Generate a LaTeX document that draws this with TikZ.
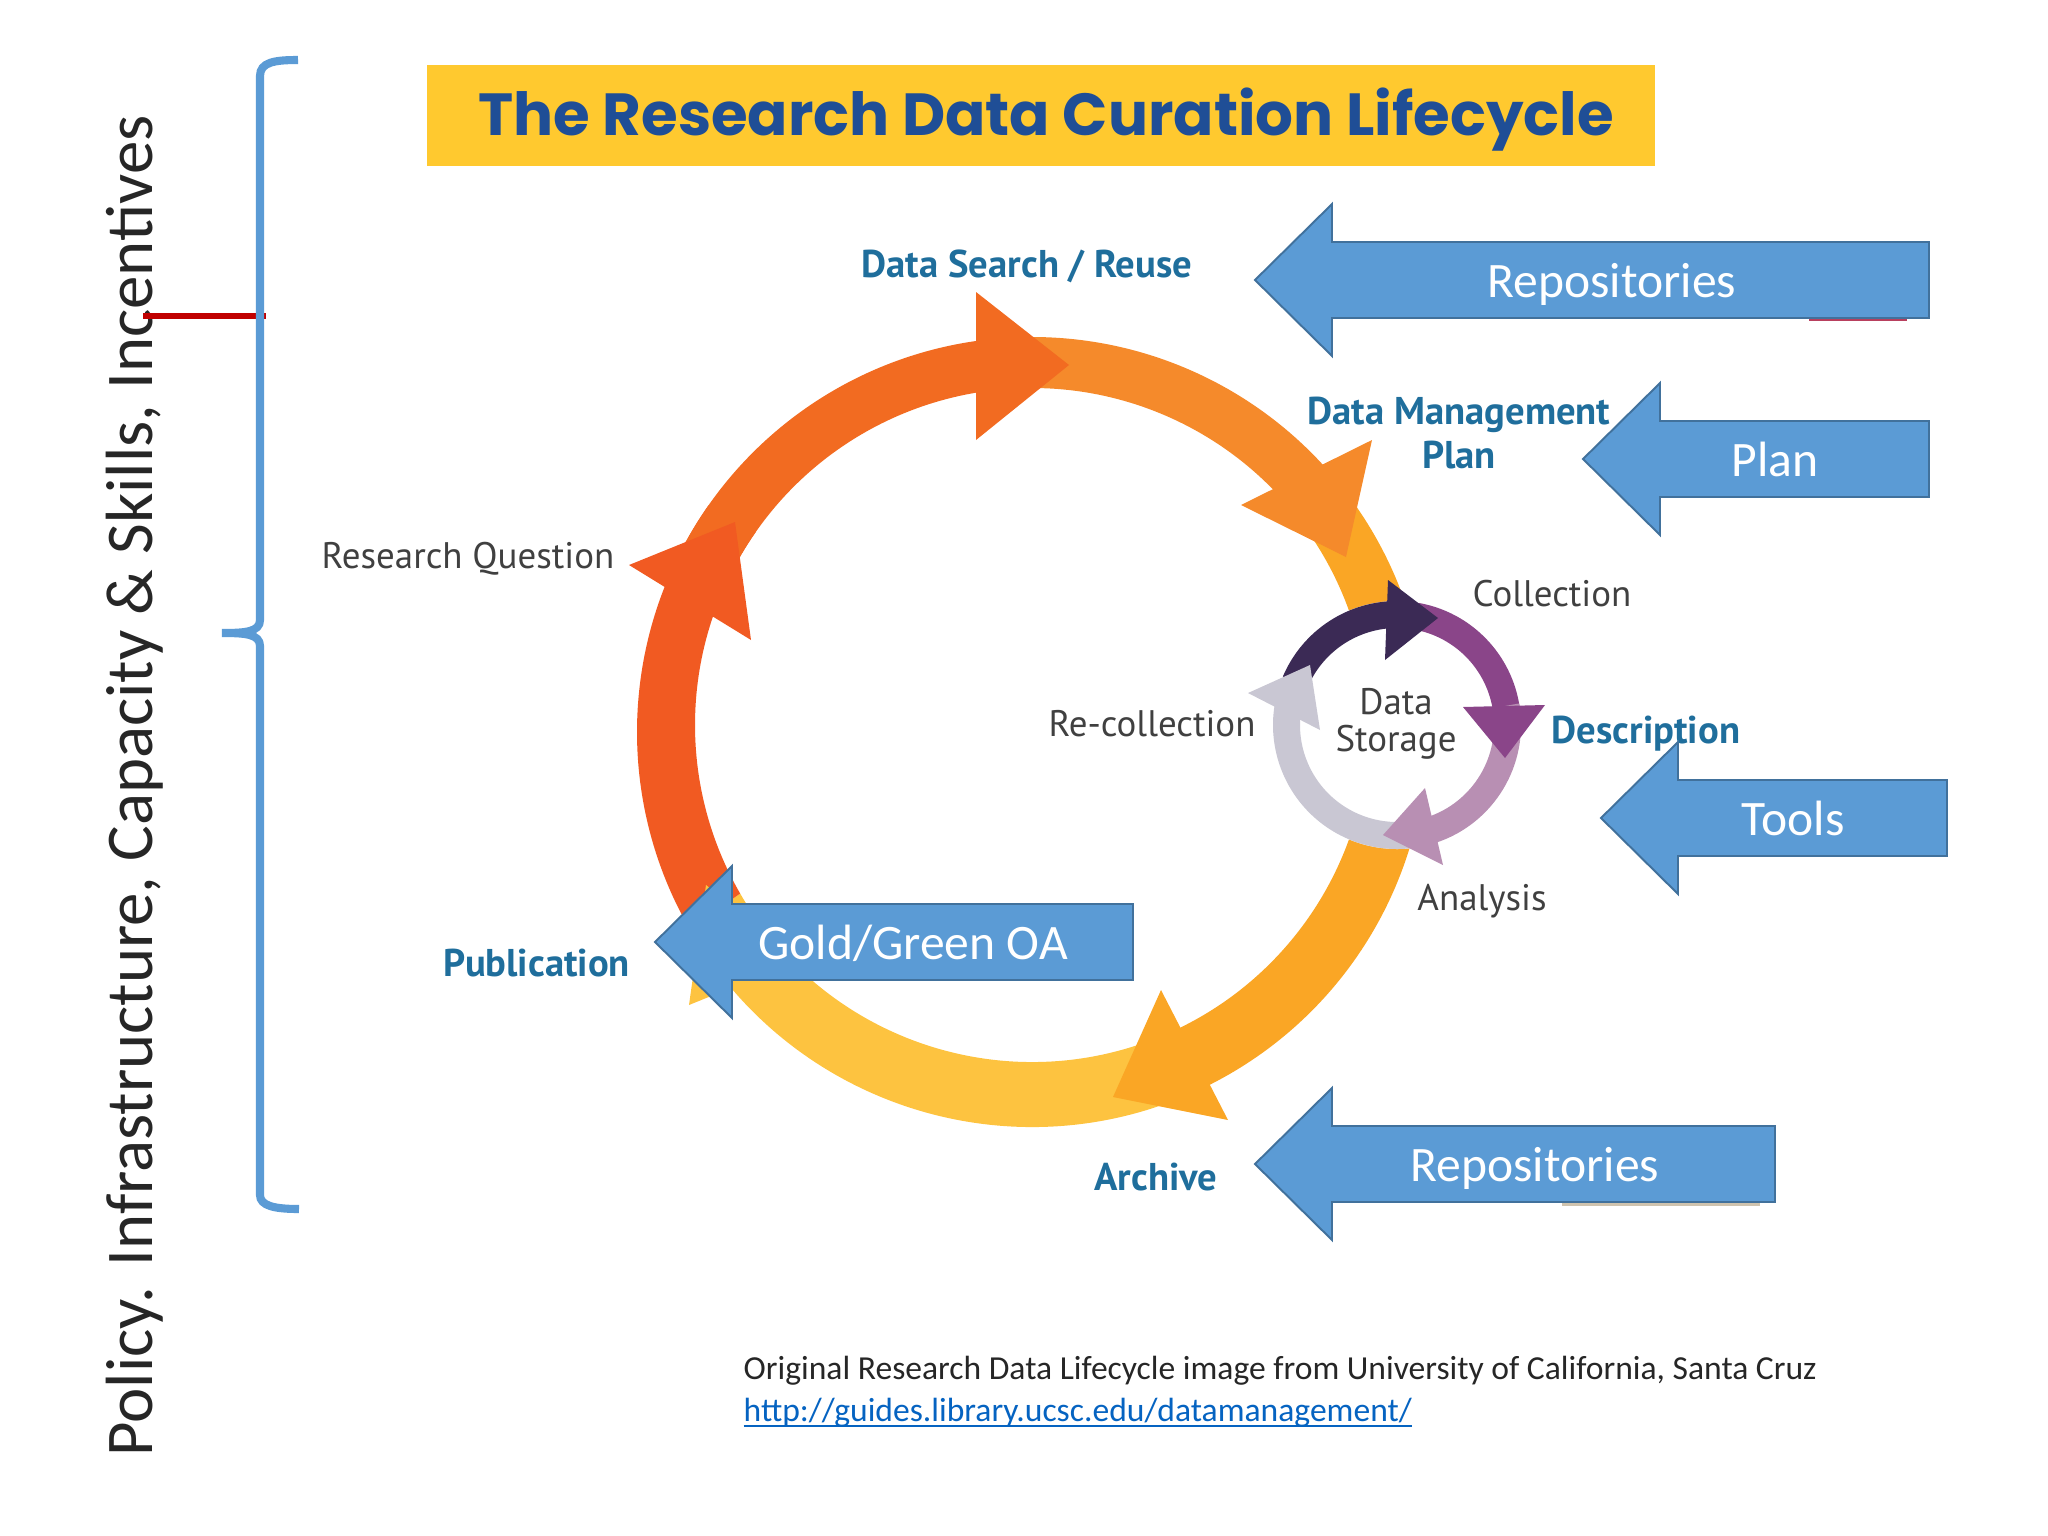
\documentclass[tikz,border=0pt]{standalone}
\usepackage{fontspec}
\setmainfont{Carlito}
\newfontfamily\titlefont{Poppins}
\newfontfamily\labelfont{PT Sans}
\usepackage{xcolor}
\definecolor{officeblue}{HTML}{5B9BD5}
\definecolor{officeedge}{HTML}{41719C}
\definecolor{stageblue}{HTML}{1F6E9C}
\definecolor{titleblue}{HTML}{1F4E96}
\definecolor{bannerfill}{HTML}{FFC92F}
\definecolor{linkblue}{HTML}{0563C1}
\definecolor{cutred}{HTML}{C00000}
\definecolor{cutpink}{HTML}{B8405E}
\definecolor{cuttan}{HTML}{CFC3AE}
\definecolor{bandyellow}{HTML}{FDC340}
\definecolor{bandred}{HTML}{F15A22}
\definecolor{banddeep}{HTML}{F26B21}
\definecolor{bandorange}{HTML}{F58A2B}
\definecolor{bandamber}{HTML}{FAA625}
\definecolor{ringdark}{HTML}{3B2A55}
\definecolor{ringpurple}{HTML}{8A4589}
\definecolor{ringmauve}{HTML}{B88FB3}
\definecolor{ringlilac}{HTML}{C9C7D3}
\tikzset{
  calloutarrow/.style = {draw=officeedge, fill=officeblue, line width=0.55pt, line join=miter},
  calloutlabel/.style = {text=white, text height=9.4pt, text depth=2.8pt, font=\fontsize{14.1}{16}\selectfont},
  stagebold/.style    = {text=stageblue, align=center, font=\labelfont\bfseries\fontsize{11}{12.6}\selectfont},
  stageplain/.style   = {text=black!75, align=center, font=\labelfont\fontsize{10.5}{10.6}\selectfont},
  sourceline/.style   = {anchor=base west, inner sep=0pt, font=\fontsize{9.55}{11}\selectfont}
}
\begin{document}
\begin{tikzpicture}
  [
    x = 0.01cm,
    y = 0.01cm,
    yscale = -1
  ]
  \useasboundingbox (0,0) rectangle (2048,1536);

  % title banner
  \fill [bannerfill] (427,65) rectangle (1655,166);
  \node (title) at (1046,120) [text=titleblue, font=\titlefont\bfseries\fontsize{16.9}{20}\selectfont] {The Research Data Curation Lifecycle};

  % big ring
  \foreach \col/\from/\to in {bandyellow/65/150, bandred/150/215, banddeep/205/265, bandorange/265/325, bandamber/320/425}
    \fill [\col]
      ([shift={(1032,732)}]\from:395) arc [start angle=\from, end angle=\to, radius=395]
      -- ([shift={(1032,725)}]\to:337) arc [start angle=\to, end angle=\from, radius=337] -- cycle;
  \foreach \col/\ax/\ay/\bx/\by/\cx/\cy in {
      bandyellow/689/1005/706/885/800/960,
      bandred/629/565/735/522/751/640,
      banddeep/976/292/1069/365/976/440,
      bandorange/1372/440/1346/557/1241/505,
      bandamber/1161/990/1113/1097/1228/1120}
    \fill [\col] (\ax,\ay) -- (\bx,\by) -- (\cx,\cy) -- cycle;

  % small ring
  \fill [white] (1397,725) circle (124);
  \foreach \col/\from/\to in {ringdark/203/270, ringpurple/280/352, ringmauve/350/432, ringlilac/78/190}
    \fill [\col]
      ([shift={(1397,725)}]\from:124) arc [start angle=\from, end angle=\to, radius=124]
      -- ([shift={(1397,725)}]\to:97) arc [start angle=\to, end angle=\from, radius=97] -- cycle;
  \foreach \col/\ax/\ay/\bx/\by/\cx/\cy in {
      ringpurple/1463/707/1505/758/1545/705,
      ringdark/1388/580/1438/618/1385/660,
      ringlilac/1248/693/1310/665/1320/730,
      ringmauve/1425/788/1383/835/1443/865}
    \fill [\col] (\ax,\ay) -- (\bx,\by) -- (\cx,\cy) -- cycle;

  % stage labels
  \node (reuse)       at (1027,266) [stagebold]  {Data Search / Reuse};
  \node (plan)        at (1459,433) [stagebold]  {Data Management\\Plan};
  \node (description) at (1646,734) [stagebold]  {Description};
  \node (publication) at (537,963)  [stagebold]  {Publication};
  \node (archive)     at (1156,1177) [stagebold] {Archive};
  \node (question)    at (468,559)  [stageplain] {Research Question};
  \node (collection)  at (1552,594) [stageplain] {Collection};
  \node (storage)     at (1396,724) [stageplain] {Data\\Storage};
  \node (recollect)   at (1152,724) [stageplain] {Re-collection};
  \node (analysis)    at (1482,901) [stageplain] {Analysis};

  % bits left behind the callouts
  \draw [cutpink, line width=0.9pt] (1809,319) -- (1907,319);
  \draw [cuttan, line width=0.9pt] (1562,1204) -- (1760,1204);

  % callouts
  \foreach \tipx/\tipy/\endx/\textx/\lbl [count=\i] in {
      1255/280/1929/1612/Repositories,
      1583/459/1929/1775/Plan,
      1601/818/1947/1793/Tools,
      655/942/1133/913/{Gold/Green OA},
      1255/1164/1775/1535/Repositories}
  {
    \draw [calloutarrow] (\tipx,\tipy) -- ++(77,-76) -- ++(0,38) -- (\endx,\tipy-38)
      -- (\endx,\tipy+38) -- (\tipx+77,\tipy+38) -- ++(0,38) -- cycle;
    \node (callout\i) at (\textx,\tipy+6) [calloutlabel] {\lbl};
  }

  % side brace
  \node (policy) at (152,786) [rotate=90, anchor=base, inner sep=0pt, font=\fontsize{19}{22}\selectfont, text=black!85] {Policy. Infrastructure, Capacity \& Skills, Incentives};
  \draw [cutred, line width=1.7pt] (143,316) -- (266,316);
  \draw [officeblue, line width=2.3pt]
    (298,60) .. controls (275,60) and (260,62) .. (260,76) -- (260,620)
    .. controls (260,632) and (245,633) .. (222,633)
    .. controls (245,633) and (260,634) .. (260,646) -- (260,1195)
    .. controls (260,1206) and (275,1209) .. (299,1209);

  % source line
  \node (source) at (743,1379) [sourceline, text=black!85] {Original Research Data Lifecycle image from University of California, Santa Cruz};
  \node (link) at (743,1421) [sourceline, text=linkblue] {\underline{\smash{http://guides.library.ucsc.edu/datamanagement/}}};
\end{tikzpicture}
\end{document}
